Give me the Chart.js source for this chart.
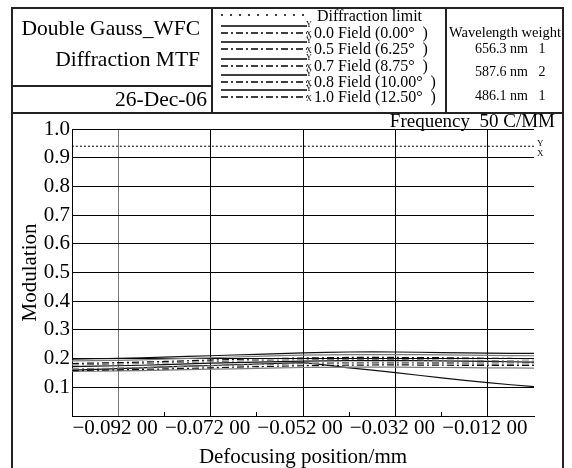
<!DOCTYPE html>
<html>
<head>
<meta charset="utf-8">
<script src="https://cdn.jsdelivr.net/npm/chart.js@4/dist/chart.umd.min.js"></script>
<style>
  html, body { margin: 0; padding: 0; background: #fff; }
  body {
    width: 572px; height: 468px; position: relative; overflow: hidden;
    font-family: "Liberation Serif", "Times New Roman", serif; color: #000;
  }
  #chart { position: absolute; left: 0; top: 0; }
  .t { position: absolute; white-space: pre; line-height: 1; }
  .ln { position: absolute; background: #222; }
  .yx { position: absolute; font-size: 9px; line-height: 1; }
  svg { position: absolute; left: 0; top: 0; }
</style>
</head>
<body>
<canvas id="chart" width="572" height="468"></canvas>

<!-- frame + header boxes -->
<div class="ln" style="left:11px;top:7px;width:552px;height:2px"></div>
<div class="ln" style="left:11px;top:7px;width:2px;height:470px"></div>
<div class="ln" style="left:562px;top:7px;width:2px;height:470px"></div>
<div class="ln" style="left:11px;top:112px;width:552px;height:2px"></div>
<div class="ln" style="left:211px;top:7px;width:2px;height:106px"></div>
<div class="ln" style="left:445px;top:7px;width:2px;height:106px"></div>
<div class="ln" style="left:11px;top:85px;width:201px;height:2px"></div>

<div class="t" style="right:372px;top:18px;font-size:21.5px">Double Gauss_WFC</div>
<div class="t" style="right:372px;top:49px;font-size:21.5px">Diffraction MTF</div>
<div class="t" style="right:365px;top:89px;font-size:21.5px">26-Dec-06</div>

<svg width="572" height="120" id="legendLines"></svg>
<div id="legendText"></div>

<div class="t" style="left:449px;top:25px;font-size:14.5px">Wavelength weight</div>
<div class="t" style="left:475px;top:42px;font-size:14px">656.3 nm   1</div>
<div class="t" style="left:475px;top:65px;font-size:14px">587.6 nm   2</div>
<div class="t" style="left:475px;top:89px;font-size:14px">486.1 nm   1</div>

<div class="t" style="right:17px;top:111px;font-size:19px">Frequency  50 C/MM</div>
<div class="yx" style="left:537px;top:139px">Y</div>
<div class="yx" style="left:537px;top:149px">X</div>

<script>
// defocus positions (mm) and MTF values at 50 c/mm
const defocus = [-0.102, -0.092, -0.082, -0.072, -0.062, -0.052, -0.042, -0.032, -0.022, -0.012, -0.002];

const diffLimit = [0.94, 0.94, 0.94, 0.94, 0.94, 0.94, 0.94, 0.94, 0.94, 0.94, 0.94];

const f00T = [0.198, 0.201, 0.205, 0.210, 0.215, 0.220, 0.223, 0.223, 0.221, 0.219, 0.218];
const f00S = [0.183, 0.186, 0.190, 0.195, 0.199, 0.202, 0.204, 0.204, 0.203, 0.201, 0.200];
const f05T = [0.192, 0.194, 0.198, 0.203, 0.208, 0.212, 0.214, 0.214, 0.213, 0.211, 0.210];
const f05S = [0.178, 0.181, 0.185, 0.189, 0.193, 0.196, 0.197, 0.197, 0.195, 0.193, 0.191];
const f07T = [0.172, 0.175, 0.179, 0.184, 0.188, 0.191, 0.193, 0.193, 0.192, 0.190, 0.188];
const f07S = [0.158, 0.161, 0.164, 0.168, 0.172, 0.175, 0.177, 0.178, 0.177, 0.176, 0.176];
const f08T = [0.155, 0.157, 0.160, 0.163, 0.166, 0.169, 0.170, 0.170, 0.169, 0.168, 0.167];
const f08S = [0.164, 0.167, 0.171, 0.175, 0.179, 0.182, 0.184, 0.184, 0.183, 0.180, 0.178];
const f10T = [0.160, 0.165, 0.171, 0.176, 0.181, 0.185, 0.168, 0.151, 0.133, 0.116, 0.102];
const f10S = [0.162, 0.166, 0.170, 0.175, 0.180, 0.184, 0.186, 0.187, 0.186, 0.185, 0.185];

const fieldNames = ['0.0 Field (0.00°  )', '0.5 Field (6.25°  )', '0.7 Field (8.75°  )',
                    '0.8 Field (10.00°  )', '1.0 Field (12.50°  )'];

const xTicks = [-0.092, -0.082, -0.072, -0.062, -0.052, -0.042, -0.032, -0.022, -0.012];
const xTickLabels = ['\u22120.092 00', '', '\u22120.072 00', '', '\u22120.052 00', '',
                     '\u22120.032 00', '', '\u22120.012 00'];
const yTicks = [0, 0.1, 0.2, 0.3, 0.4, 0.5, 0.6, 0.7, 0.8, 0.9, 1.0];
const yTickLabels = ['', '0.1', '0.2', '0.3', '0.4', '0.5', '0.6', '0.7', '0.8', '0.9', '1.0'];

const BLACK = '#111';
const GRAY = '#7a7a7a';
const DASHDOT = [7, 3, 2, 3];
const serif = '"Liberation Serif", "Times New Roman", serif';

// header legend: line samples drawn as svg, labels as html text
(function buildLegend() {
    const svg = document.getElementById('legendLines');
    const box = document.getElementById('legendText');
    let s = '<line x1="221" y1="15" x2="307" y2="15" stroke="#000" stroke-width="1.3" stroke-dasharray="2,7"/>';
    let h = '<div class="t" style="left:317px;top:8px;font-size:16px">Diffraction limit</div>';
    const rows = [33, 49, 66, 82, 97];
    rows.forEach((cy, i) => {
        s += `<line x1="221" y1="${cy - 7}" x2="307" y2="${cy - 7}" stroke="#000" stroke-width="1.3"/>`;
        s += `<line x1="221" y1="${cy}" x2="307" y2="${cy}" stroke="#000" stroke-width="1.3" stroke-dasharray="${DASHDOT.join(',')}"/>`;
        h += `<div class="yx" style="left:306px;top:${cy - 12}px;font-size:8px">Y</div>`;
        h += `<div class="yx" style="left:306px;top:${cy - 2}px;font-size:8px">X</div>`;
        h += `<div class="t" style="left:314px;top:${cy - 8}px;font-size:16px">${fieldNames[i]}</div>`;
    });
    svg.innerHTML = s;
    box.innerHTML = h;
})();

function pts(arr) {
    return defocus.map((x, i) => ({ x: x, y: arr[i] }));
}

const datasets = [
    { data: pts(diffLimit), borderColor: '#000', borderDash: [2, 2], borderWidth: 1 },
    { data: pts(f00T), borderColor: BLACK },
    { data: pts(f00S), borderColor: BLACK, borderDash: DASHDOT },
    { data: pts(f05T), borderColor: GRAY },
    { data: pts(f05S), borderColor: GRAY, borderDash: DASHDOT },
    { data: pts(f07T), borderColor: BLACK },
    { data: pts(f07S), borderColor: BLACK, borderDash: DASHDOT },
    { data: pts(f08T), borderColor: GRAY },
    { data: pts(f08S), borderColor: GRAY, borderDash: DASHDOT },
    { data: pts(f10T), borderColor: BLACK },
    { data: pts(f10S), borderColor: GRAY, borderDash: DASHDOT }
];

const isMajor = v => xTicks.indexOf(v) % 2 === 0;

new Chart(document.getElementById('chart').getContext('2d'), {
    type: 'line',
    data: { datasets: datasets },
    options: {
        responsive: false,
        animation: false,
        devicePixelRatio: 1,
        layout: { padding: { left: 0, right: 38, top: 129, bottom: 0 } },
        plugins: { legend: { display: false }, tooltip: { enabled: false } },
        elements: {
            point: { radius: 0 },
            line: { tension: 0.3, borderWidth: 1.2, fill: false }
        },
        scales: {
            x: {
                type: 'linear',
                min: -0.102,
                max: -0.002,
                afterFit: s => { s.height = 52; },
                afterBuildTicks: s => { s.ticks = xTicks.map(v => ({ value: v })); },
                ticks: {
                    autoSkip: false,
                    maxRotation: 0,
                    padding: 6,
                    labelOffset: -3,
                    color: '#000',
                    font: { family: serif, size: 21, lineHeight: 1 },
                    callback: (v, i) => xTickLabels[i]
                },
                grid: {
                    tickLength: -4,
                    lineWidth: 1,
                    color: c => {
                        const v = c.tick && c.tick.value;
                        if (!isMajor(v)) return 'rgba(0,0,0,0)';
                        return v === -0.092 ? GRAY : '#000';
                    },
                    tickColor: c => isMajor(c.tick && c.tick.value) ? 'rgba(0,0,0,0)' : '#000'
                },
                border: { color: '#000', width: 1 },
                title: {
                    display: true,
                    text: 'Defocusing position/mm',
                    color: '#000',
                    padding: 0,
                    font: { family: serif, size: 21, lineHeight: 1 }
                }
            },
            y: {
                min: 0,
                max: 1,
                afterFit: s => { s.width = 72; },
                afterBuildTicks: s => { s.ticks = yTicks.map(v => ({ value: v })); },
                ticks: {
                    padding: 2,
                    color: '#000',
                    font: { family: serif, size: 21, lineHeight: 1 },
                    callback: (v, i) => yTickLabels[i]
                },
                grid: { color: '#000', lineWidth: 1, drawTicks: false },
                border: { color: '#000', width: 1 },
                title: {
                    display: true,
                    text: 'Modulation',
                    color: '#000',
                    padding: { top: 20, bottom: 0 },
                    font: { family: serif, size: 21, lineHeight: 1 }
                }
            }
        }
    }
});
</script>
</body>
</html>
